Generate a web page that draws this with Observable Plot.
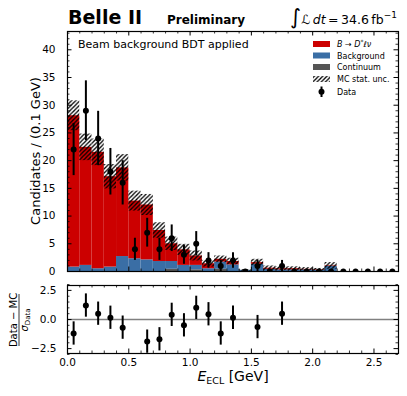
<!DOCTYPE html>
<html><head><meta charset="utf-8">
<script src="https://cdn.jsdelivr.net/npm/d3@7"></script>
<script src="https://cdn.jsdelivr.net/npm/@observablehq/plot@0.6"></script>
<style>
body{margin:0;background:#fff;}
#wrap{position:relative;width:407px;height:396px;font-family:"DejaVu Sans";background:#fff;overflow:hidden;}
#wrap svg{position:absolute;left:0;}
</style></head><body><div id="wrap"></div>
<script>
// ---- data ----
const binLow = [0.0,0.1,0.2,0.3,0.4,0.5,0.6,0.7,0.8,0.9,1.0,1.1,1.2,1.3,1.4,1.5,1.6,1.7,1.8,1.9,2.0,2.1,2.2,2.3,2.4,2.5,2.6];
const binWidth = 0.1;
const signal     = [27.3,21.3,21.0,16.3,16.0,10.4,9.9,5.6,3.2,2.8,1.7,0.9,0.5,0.6,0.0,0.3,0.2,0.2,0.2,0.1,0.1,0.1,0,0,0,0,0];
const background = [0.8,1.1,0.5,0.8,2.7,2.3,2.1,1.8,1.4,1.1,0.8,0.5,1.3,1.2,0.2,1.3,0.4,0.3,0.3,0.3,0.2,0.9,0,0,0,0,0];
const continuum  = [0,0,0,0,0,0,0,0,0.4,0,0.3,0,0.4,0,0,0,0,0,0,0,0,0,0,0,0,0,0];
const mcUnc      = [2.7,2.4,2.4,2.2,2.4,1.8,1.9,1.4,1.2,1.0,0.9,0.6,0.6,0.6,0.15,0.6,0.4,0.35,0.35,0.3,0.25,0.6,0,0,0,0,0];
const dataCounts = [22,29,24,18,16,4,7,4,6,3,5,2,1,2,0,1,0,1,0,0,0,0,0,0,0,0,0];
const dataErr    = [4.7,5.4,4.9,4.2,4.0,2.0,2.6,2.0,2.4,1.7,2.2,1.4,1.0,1.4,0,1.0,0,1.0,0,0,0,0,0,0,0,0,0];
const pullX   = [0.05,0.15,0.25,0.35,0.45,0.65,0.75,0.85,0.95,1.05,1.15,1.25,1.35,1.55,1.75];
const pullVal = [-1.2,1.2,0.5,0.15,-0.7,-1.9,-1.7,0.4,-0.5,1.0,0.45,-1.2,0.15,-0.65,0.5];
const pullErr = [1,1,1,1,1,1,1,1,1,1,1,1,1,1,1];
const yMainTicks = [0,5,10,15,20,25,30,35,40];
const xTicks = [0,0.5,1.0,1.5,2.0,2.5];
const pullTicks = [-2.5,0,2.5];
const colors = {signal:"#cc0000", background:"#3a6ea5", continuum:"#555555"};

// ---- tables built from arrays ----
const rows = binLow.map((lo,i)=>{
  const g = continuum[i], b = background[i], s = signal[i];
  const tot = g+b+s;
  return {lo, hi: lo+binWidth, c: lo+binWidth/2, g0:0, g1:g, b0:g, b1:g+b, s0:g+b, s1:tot,
          u0: tot-mcUnc[i], u1: tot+mcUnc[i], unc: mcUnc[i], d: dataCounts[i], e: dataErr[i]};
});
const pulls = pullX.map((x,i)=>({x, v: pullVal[i], e: pullErr[i]}));

const minorX = d3.range(0, 2.71, 0.1).filter(v=>Math.abs(v/0.5-Math.round(v/0.5))>1e-6);
const minorY = d3.range(0, 43.5, 1).filter(v=>v%5!==0);
const minorP = d3.range(-3, 3.01, 0.5).filter(v=>Math.abs(v/2.5-Math.round(v/2.5))>1e-6);

const W = 407, ML = 67, MR = 9;
const frameW = W-ML-MR;
const MAJ = 4.5, MIN = 2.5;
const font = "DejaVu Sans";

function ticksFor(frameH, xMaj, xMin, yMaj, yMin){
  return [
    Plot.tickX(xMaj,{x:d=>d, insetTop:frameH-MAJ, stroke:"black", strokeWidth:1}),
    Plot.tickX(xMaj,{x:d=>d, insetBottom:frameH-MAJ, stroke:"black", strokeWidth:1}),
    Plot.tickX(xMin,{x:d=>d, insetTop:frameH-MIN, stroke:"black", strokeWidth:0.8}),
    Plot.tickX(xMin,{x:d=>d, insetBottom:frameH-MIN, stroke:"black", strokeWidth:0.8}),
    Plot.tickY(yMaj,{y:d=>d, insetRight:frameW-MAJ, stroke:"black", strokeWidth:1}),
    Plot.tickY(yMaj,{y:d=>d, insetLeft:frameW-MAJ, stroke:"black", strokeWidth:1}),
    Plot.tickY(yMin,{y:d=>d, insetRight:frameW-MIN, stroke:"black", strokeWidth:0.8}),
    Plot.tickY(yMin,{y:d=>d, insetLeft:frameW-MIN, stroke:"black", strokeWidth:0.8})
  ];
}

// ---- main panel ----
const mainH = 290, mainMT = 31, mainMB = 19;
const main = Plot.plot({
  width: W, height: mainH, marginTop: mainMT, marginBottom: mainMB, marginLeft: ML, marginRight: MR,
  style: {fontFamily: font, fontSize: "10.5px", color: "black", background: "transparent"},
  x: {domain: [0, 2.7], axis: null},
  y: {domain: [0, 43.3]},
  marks: [
    Plot.rectY(rows.filter(r=>r.g1>r.g0), {x1:"lo", x2:"hi", y1:"g0", y2:"g1", fill: colors.continuum}),
    Plot.rectY(rows.filter(r=>r.b1>r.b0), {x1:"lo", x2:"hi", y1:"b0", y2:"b1", fill: colors.background}),
    Plot.rectY(rows.filter(r=>r.s1>r.s0), {x1:"lo", x2:"hi", y1:"s0", y2:"s1", fill: colors.signal}),
    Plot.rectY(rows.filter(r=>r.unc>0), {x1:"lo", x2:"hi", y1:"u0", y2:"u1", fill: "url(#hatch)"}),
    Plot.ruleX(rows.filter(r=>r.e>0), {x:"c", y1:d=>d.d-d.e, y2:d=>d.d+d.e, stroke:"black", strokeWidth:2}),
    Plot.dot(rows, {x:"c", y:"d", r:3, fill:"black", stroke:null, clip:true}),
    ...ticksFor(mainH-mainMT-mainMB, xTicks, minorX, yMainTicks, minorY),
    Plot.axisY({ticks: yMainTicks, tickSize: 0, tickPadding: 12, label: null, fontSize: 10.5}),
    Plot.frame({stroke:"black", strokeWidth:1.2})
  ]
});
main.style.top = "0px";

// ---- pull panel ----
const pullTop = 275, pullH = 121, pullMT = 10, pullMB = 43;
const pull = Plot.plot({
  width: W, height: pullH, marginTop: pullMT, marginBottom: pullMB, marginLeft: ML, marginRight: MR,
  style: {fontFamily: font, fontSize: "10.5px", color: "black", background: "transparent"},
  x: {domain: [0, 2.7]},
  y: {domain: [-2.92, 2.92]},
  marks: [
    Plot.ruleY([0], {stroke:"#808080", strokeWidth:1.5}),
    Plot.ruleX(pulls, {x:"x", y1:d=>d.v-d.e, y2:d=>d.v+d.e, stroke:"black", strokeWidth:2, clip:true}),
    Plot.dot(pulls, {x:"x", y:"v", r:3, fill:"black", stroke:null}),
    ...ticksFor(pullH-pullMT-pullMB, xTicks, minorX, pullTicks, minorP),
    Plot.axisY({ticks: pullTicks, tickSize: 0, tickPadding: 11, tickFormat: d3.format(".1f"), label: null, fontSize: 10.5}),
    Plot.axisX({ticks: xTicks, tickSize: 0, tickPadding: 5, tickFormat: d3.format(".1f"), label: null, fontSize: 10.5}),
    Plot.frame({stroke:"black", strokeWidth:1.2})
  ]
});
pull.style.top = pullTop + "px";

const wrap = document.getElementById("wrap");
wrap.appendChild(main);
wrap.appendChild(pull);

// ---- overlay texts / legend ----
const NS = "http://www.w3.org/2000/svg";
const ov = document.createElementNS(NS, "svg");
ov.setAttribute("width", W); ov.setAttribute("height", 396);
ov.style.top = "0px";
ov.setAttribute("font-family", font);
ov.innerHTML = `
<defs>
 <pattern id="hatch" patternUnits="userSpaceOnUse" width="4.2" height="4.2">
  <path d="M-1,1 l2,-2 M0,4.2 l4.2,-4.2 M3.2,5.2 l2,-2" stroke="black" stroke-width="1.3"/>
 </pattern>
</defs>
<text x="68" y="24" font-size="19" font-weight="bold">Belle II</text>
<text x="167" y="24" font-size="12" font-weight="bold">Preliminary</text>
<text x="397" y="23.5" text-anchor="end" font-size="12.5"><tspan font-size="21">∫</tspan><tspan font-style="italic">ℒ</tspan><tspan font-style="italic">&#8201;dt</tspan>&#8201;=&#8201;34.6&#8201;fb<tspan font-size="9" dy="-6">−1</tspan></text>
<text x="78" y="48" font-size="11">Beam background BDT applied</text>
<g font-size="8">
 <rect x="313" y="41" width="17" height="6" fill="${colors.signal}"/>
 <text x="337" y="47"><tspan font-style="italic">B</tspan> → <tspan font-style="italic">D</tspan><tspan font-size="6" dy="-3">*</tspan><tspan dy="3" font-style="italic">ℓν</tspan></text>
 <rect x="313" y="52.5" width="17" height="6" fill="${colors.background}"/>
 <text x="337" y="58.5">Background</text>
 <rect x="313" y="64" width="17" height="6" fill="${colors.continuum}"/>
 <text x="337" y="70">Continuum</text>
 <rect x="313" y="76" width="17" height="6" fill="url(#hatch)"/>
 <text x="337" y="82">MC stat. unc.</text>
 <line x1="321.5" x2="321.5" y1="86.5" y2="97" stroke="black" stroke-width="2"/>
 <circle cx="321.5" cy="91.7" r="3" fill="black"/>
 <text x="337" y="94.5">Data</text>
</g>
<text transform="translate(39.5,151) rotate(-90)" text-anchor="middle" font-size="13">Candidates / (0.1 GeV)</text>
<g transform="translate(19,320) rotate(-90)">
 <text x="0" y="-2.5" text-anchor="middle" font-size="10">Data − MC</text>
 <line x1="-26" x2="26" y1="0" y2="0" stroke="black" stroke-width="0.8"/>
 <text x="0" y="9" text-anchor="middle" font-size="10"><tspan font-style="italic">σ</tspan><tspan font-size="7" dy="2">Data</tspan></text>
</g>
<text x="233" y="381" text-anchor="middle" font-size="14"><tspan font-style="italic">E</tspan><tspan font-size="9.5" dy="3">ECL</tspan><tspan dy="-3"> [GeV]</tspan></text>
`;
wrap.insertBefore(ov, wrap.firstChild);
ov.style.pointerEvents = "none";
</script>
</body></html>
